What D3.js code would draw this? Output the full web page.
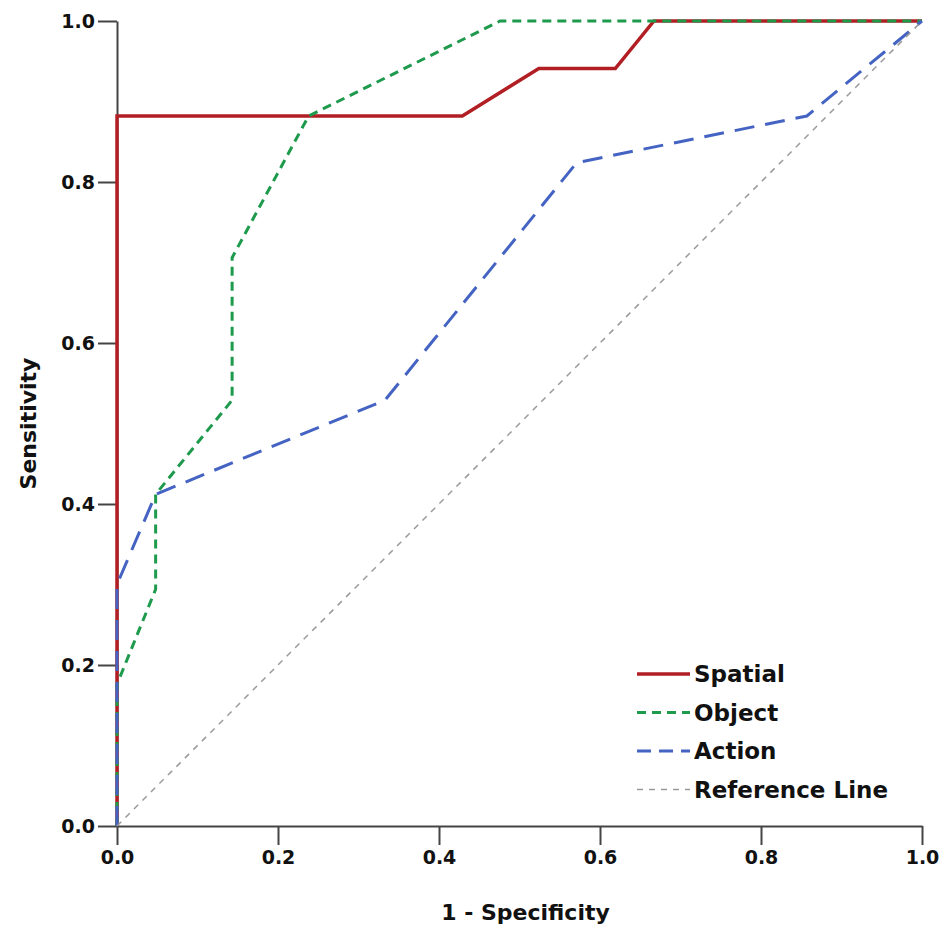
<!DOCTYPE html>
<html>
<head>
<meta charset="UTF-8">
<title>ROC curves</title>
<script src="https://d3js.org/d3.v7.min.js"></script>
<style>
  body { margin: 0; background: #fff; }
  svg { display: block; }
  .axis path, .axis line { stroke: #444; stroke-width: 2; }
  .axis text { font-family: "DejaVu Sans", Verdana, sans-serif; font-weight: bold; font-size: 19px; fill: #111; }
  .title { font-family: "DejaVu Sans", Verdana, sans-serif; font-weight: bold; font-size: 22px; fill: #111; }
  .legend text { font-family: "DejaVu Sans", Verdana, sans-serif; font-weight: bold; font-size: 23px; fill: #111; }
</style>
</head>
<body>
<svg width="943" height="927"></svg>
<script>
// ROC points as [1 - specificity, sensitivity]
var spatial = [[0, 0], [0, 0.882], [0.429, 0.882], [0.524, 0.941], [0.619, 0.941], [0.667, 1], [1, 1]]
var object = [[0, 0], [0, 0.176], [0.048, 0.294], [0.048, 0.412], [0.143, 0.529], [0.143, 0.706], [0.238, 0.882], [0.476, 1], [1, 1]]
var action = [[0, 0], [0, 0.3], [0.048, 0.412], [0.333, 0.529], [0.571, 0.824], [0.857, 0.882], [1, 1]]
var reference = [[0, 0], [1, 1]]

var tickValues = [0, 0.2, 0.4, 0.6, 0.8, 1.0]

var series = [
  { name: "Spatial", data: spatial, color: "#b11f24", width: 3.5, dash: null },
  { name: "Object", data: object, color: "#1e9a4c", width: 3, dash: "9,6" },
  { name: "Action", data: action, color: "#4463c2", width: 3, dash: "20,11" },
  { name: "Reference Line", data: reference, color: "#9a9a9a", width: 1.5, dash: "6,6" }
]

var svg = d3.select("svg"),
    margin = { top: 21, right: 21, bottom: 101, left: 117 },
    width = +svg.attr("width") - margin.left - margin.right,
    height = +svg.attr("height") - margin.top - margin.bottom

var x = d3.scaleLinear().domain([0, 1]).range([0, width])
var y = d3.scaleLinear().domain([0, 1]).range([height, 0])

var g = svg.append("g").attr("transform", "translate(" + margin.left + "," + margin.top + ")")

g.append("g")
  .attr("class", "axis")
  .attr("transform", "translate(0," + height + ")")
  .call(d3.axisBottom(x).tickValues(tickValues).tickFormat(d3.format(".1f")).tickSize(19).tickSizeOuter(0).tickPadding(6))

g.append("g")
  .attr("class", "axis")
  .call(d3.axisLeft(y).tickValues(tickValues).tickFormat(d3.format(".1f")).tickSize(19).tickSizeOuter(0).tickPadding(3))

var line = d3.line()
  .x(function(d) { return x(d[0]) })
  .y(function(d) { return y(d[1]) })

g.selectAll(".curve")
  .data(series)
  .enter().append("path")
  .attr("class", "curve")
  .attr("fill", "none")
  .attr("stroke", function(d) { return d.color })
  .attr("stroke-width", function(d) { return d.width })
  .attr("stroke-dasharray", function(d) { return d.dash })
  .attr("d", function(d) { return line(d.data) })

// axis titles
svg.append("text")
  .attr("class", "title")
  .attr("x", margin.left + width / 2 + 6)
  .attr("y", 920)
  .attr("text-anchor", "middle")
  .text("1 - Specificity")

svg.append("text")
  .attr("class", "title")
  .attr("transform", "translate(36," + (margin.top + height / 2) + ") rotate(-90)")
  .attr("text-anchor", "middle")
  .text("Sensitivity")

// legend
var legend = svg.append("g").attr("class", "legend")
  .attr("transform", "translate(637,674)")

var row = legend.selectAll("g")
  .data(series)
  .enter().append("g")
  .attr("transform", function(d, i) { return "translate(0," + (i * 38.5) + ")" })

row.append("line")
  .attr("x1", 0).attr("x2", 53)
  .attr("stroke", function(d) { return d.color })
  .attr("stroke-width", function(d) { return d.width })
  .attr("stroke-dasharray", function(d) { return d.name == "Action" ? "14,8" : d.dash })

row.append("text")
  .attr("x", 57)
  .attr("dy", "0.36em")
  .text(function(d) { return d.name })
</script>
</body>
</html>
